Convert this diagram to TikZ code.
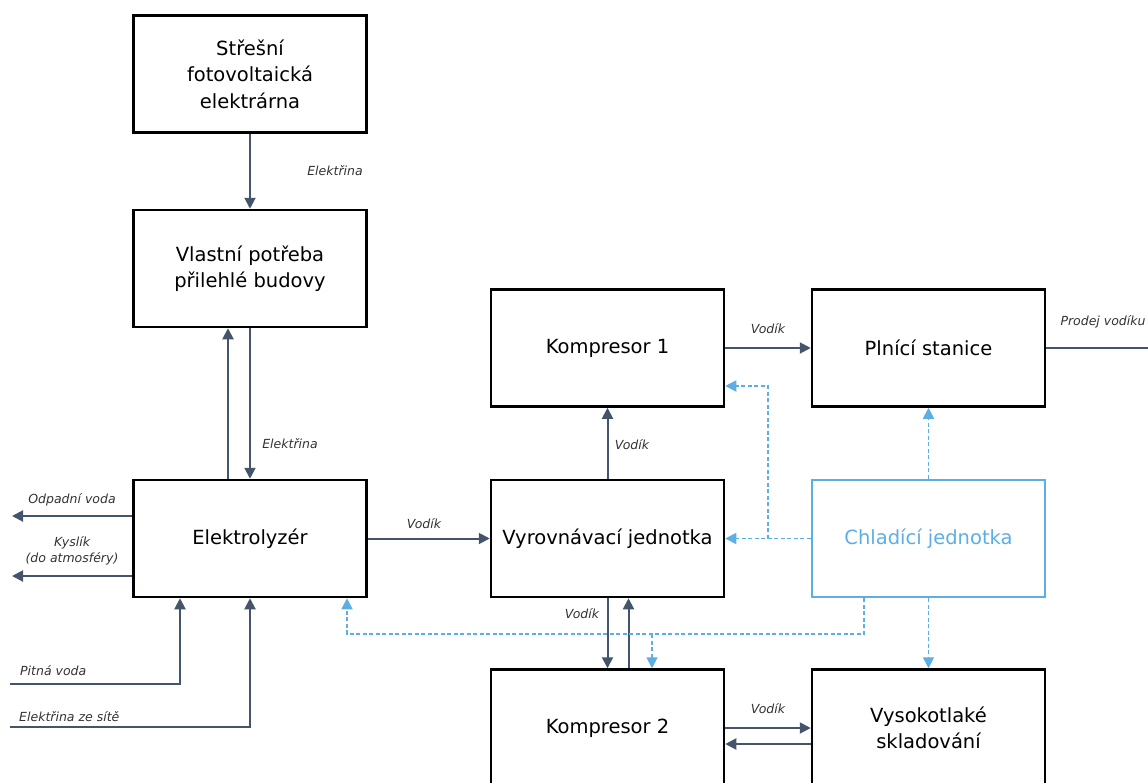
\documentclass[tikz,border=0pt]{standalone}
\usepackage{fontspec}
\setmainfont{DejaVu Sans}
\usetikzlibrary{arrows.meta, calc}
\definecolor{tmava}{HTML}{44546A}
\definecolor{modra}{HTML}{5DAEE3}
\tikzset{>={Triangle[length=11pt,width=11pt]}}
\tikzset{
  blok/.style={draw=black, line width=2.5pt, minimum width=233pt, minimum height=117pt,
    inner sep=0pt, align=center, font=\fontsize{19.5}{26.5}\selectfont},
  popis/.style={font=\fontsize{12.5}{16}\selectfont\itshape, text=black!80, inner sep=0pt, align=center},
  tok/.style={draw=tmava, line width=2pt},
  chlazeni/.style={draw=modra, line width=1.8pt, dash pattern=on 4pt off 2.5pt},
}

\begin{document}
\begin{tikzpicture}[x=1pt, y=-1pt]
    \useasboundingbox (0,0) rectangle (1148,782);
    \clip (0,0) rectangle (1148,782);
    % bloky
    \node [blok] (fve) at (250,74) {Střešní\\fotovoltaická\\elektrárna};
    \node [blok] (vp) at (250,268.5) {Vlastní potřeba\\přilehlé budovy};
    \node [blok] (el) at (250,538.5) {Elektrolyzér};
    \node [blok] (k1) at (607.5,348) {Kompresor 1};
    \node [blok] (ps) at (928.5,348) {Plnící stanice};
    \node [blok] (vj) at (607.5,538.5) {Vyrovnávací jednotka};
    \node [blok, draw=modra, text=modra] (ch) at (928.5,538.5) {Chladící jednotka};
    \node [blok] (k2) at (607.5,728) {Kompresor 2};
    \node [blok] (vs) at (928.5,728) {Vysokotlaké\\skladování};
    % volne konce
    \coordinate (odv) at (12,516);
    \coordinate (kys) at (12,576);
    \coordinate (pv) at (10,684);
    \coordinate (ezs) at (10,727);
    \coordinate (prodej) at (1150,348);
    \coordinate (rozvod) at (652,634);
    \coordinate (odbocka) at (768,538.5);
    % elektrina
    \draw [tok, ->] (fve) -- (vp);
    \draw [tok, ->] ([xshift=-22pt]el.north) -- ([xshift=-22pt]vp.south);
    \draw [tok, ->] (vp) -- (el);
    \draw [tok, ->] (el.west |- odv) -- (odv);
    \draw [tok, ->] (el.west |- kys) -- (kys);
    \draw [tok, ->] (pv) -| ([xshift=-70pt]el.south);
    \draw [tok, ->] (ezs) -| (el.south);
    % vodik
    \draw [tok, ->] (el) -- (vj);
    \draw [tok, ->] (vj) -- (k1);
    \draw [tok, ->] (k1) -- (ps);
    \draw [tok] (ps) -- (prodej);
    \draw [tok, ->] (vj) -- (k2);
    \draw [tok, ->] ([xshift=21pt]k2.north) -- ([xshift=21pt]vj.south);
    \draw [tok, ->] (k2.east |- vs) -- (vs);
    \draw [tok, ->] ([yshift=-16pt]vs.west) -- ([yshift=-16pt]vs.west -| k2.east);
    % chlazeni
    \draw [chlazeni, ->] (ch) -- (vj);
    \draw [chlazeni, ->] (odbocka) |- ([yshift=-38pt]k1.east);
    \draw [chlazeni, ->] (ch) -- (ps);
    \draw [chlazeni, ->] (ch.south) -- (ch.south |- vs.north);
    \draw [chlazeni, ->] ([xshift=-64.5pt]ch.south) |- (rozvod) -| ([xshift=97pt]el.south);
    \draw [chlazeni, ->] (rozvod) -- (rozvod |- k2.north);
    % popisky
    \node [popis] (p1) at (335,171) {Elektřina};
    \node [popis] (p2) at (290,444) {Elektřina};
    \node [popis] (p3) at (72,500) {Odpadní voda};
    \node [popis] (p4) at (72,551) {Kyslík\\(do atmosféry)};
    \node [popis, anchor=west] (p5) at (20,671) {Pitná voda};
    \node [popis, anchor=west] (p6) at (19,717) {Elektřina ze sítě};
    \node [popis] (p7) at (424,524) {Vodík};
    \node [popis] (p8) at (632,445) {Vodík};
    \node [popis] (p9) at (768,329) {Vodík};
    \node [popis] (p10) at (1103,322) {Prodej vodíku};
    \node [popis] (p11) at (582,614) {Vodík};
    \node [popis] (p12) at (768,709) {Vodík};
\end{tikzpicture}
\end{document}
